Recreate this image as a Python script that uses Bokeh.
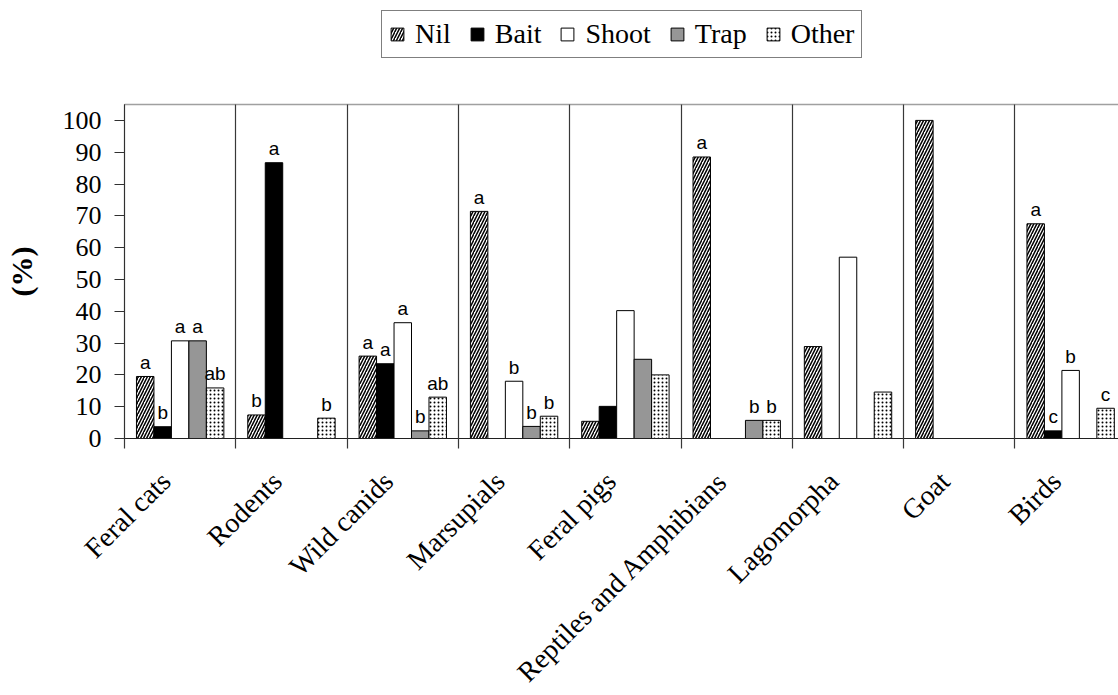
import math
from bokeh.plotting import figure
from bokeh.models import Range1d, FixedTicker, ColumnDataSource, Legend, LegendItem, LinearAxis
from bokeh.core.properties import value
from bokeh.embed import file_html
from bokeh.resources import INLINE

categories = ["Feral cats", "Rodents", "Wild canids", "Marsupials", "Feral pigs",
              "Reptiles and Amphibians", "Lagomorpha", "Goat", "Birds"]
series_names = ["Nil", "Bait", "Shoot", "Trap", "Other"]

nil = [19.5, 7.4, 25.9, 71.4, 5.4, 88.5, 28.9, 100.0, 67.5]
bait = [3.7, 86.7, 23.5, 0.0, 10.1, 0.0, 0.0, 0.0, 2.4]
shoot = [30.7, 0.0, 36.4, 18.0, 40.2, 0.0, 57.0, 0.0, 21.4]
trap = [30.7, 0.0, 2.4, 3.8, 24.9, 5.7, 0.0, 0.0, 0.0]
other = [15.9, 6.4, 13.0, 7.0, 20.0, 5.7, 14.6, 0.0, 9.5]

nil_sig = ["a", "b", "a", "a", "", "a", "", "", "a"]
bait_sig = ["b", "a", "a", "", "", "", "", "", "c"]
shoot_sig = ["a", "", "a", "b", "", "", "", "", "b"]
trap_sig = ["a", "", "b", "b", "", "b", "", "", ""]
other_sig = ["ab", "b", "ab", "b", "", "b", "", "", "c"]

y_ticks = [0, 10, 20, 30, 40, 50, 60, 70, 80, 90, 100]
y_label = "(%)"

all_values = [nil, bait, shoot, trap, other]
all_sigs = [nil_sig, bait_sig, shoot_sig, trap_sig, other_sig]

styles = [
    dict(fill_color="white", hatch_pattern="/", hatch_color="black", hatch_scale=6, hatch_weight=1.5),
    dict(fill_color="black"),
    dict(fill_color="white"),
    dict(fill_color="#969696"),
    dict(fill_color="white", hatch_pattern=".", hatch_color="black", hatch_scale=4, hatch_weight=1.0),
]

bar_w = 0.157
offsets = [-2 * bar_w, -bar_w, 0.0, bar_w, 2 * bar_w]
serif = "Liberation Serif"

# ---- geometry: the frame fills the whole canvas, axes sit at fixed data locations ----
W, H = 1118, 695
AX_LEFT, AX_TOP, AX_ZERO = 124, 104, 438     # pixel column of x=0, rows of y=Y_MAX and y=0
Y_MAX = 105.0
X_MAX = 8.93
sy = (AX_ZERO - AX_TOP) / Y_MAX
sx = (W - AX_LEFT) / X_MAX
y_range = Range1d(-(H - AX_ZERO) / sy, Y_MAX + AX_TOP / sy)
x_range = Range1d(-AX_LEFT / sx, X_MAX)

p = figure(width=W, height=H, x_range=x_range, y_range=y_range,
           output_backend="svg", toolbar_location=None, min_border=0)
p.background_fill_color = "white"
p.border_fill_color = "white"
p.outline_line_color = None
p.grid.grid_line_color = None

plot_h_px = AX_ZERO - AX_TOP

label_shift = -0.13
xt = FixedTicker(ticks=[i + 0.5 + label_shift for i in range(len(categories))],
                 minor_ticks=list(range(len(categories) + 1)))
xa = p.xaxis[0]
xa.fixed_location = 0
xa.bounds = (0, X_MAX)
xa.ticker = xt
xa.major_label_overrides = {i + 0.5 + label_shift: c for i, c in enumerate(categories)}
xa.major_tick_line_color = None
# category dividers: minor ticks running up through the plot and 10px below the axis
xa.minor_tick_in = plot_h_px
xa.minor_tick_out = 10
xa.minor_tick_line_color = "#383838"
xa.minor_tick_line_width = 1.2
xa.axis_line_color = "#202020"
xa.major_label_orientation = math.pi / 4
xa.major_label_text_font = serif
xa.major_label_text_font_size = "28px"
xa.major_label_text_color = "black"
xa.major_label_standoff = 28

ya = p.yaxis[0]
ya.fixed_location = 0
ya.bounds = (0, Y_MAX)
ya.ticker = FixedTicker(ticks=y_ticks)
ya.minor_tick_line_color = None
ya.major_tick_in = 0
ya.major_tick_out = 10
ya.major_tick_line_color = "#303030"
ya.axis_line_color = "#303030"
ya.major_label_text_font = serif
ya.major_label_text_font_size = "26px"
ya.major_label_text_color = "black"
ya.major_label_standoff = 13
ya.axis_label = y_label
ya.axis_label_text_font = serif
ya.axis_label_text_font_style = "bold"
ya.axis_label_text_font_size = "30px"
ya.axis_label_text_color = "black"
ya.axis_label_standoff = 22

# grey top border of the plot area
top_axis = LinearAxis(fixed_location=Y_MAX, bounds=(0, X_MAX), axis_line_color="#a0a0a0",
                      axis_line_width=1.5, major_tick_line_color=None, minor_tick_line_color=None,
                      major_label_text_font_size="0px", ticker=FixedTicker(ticks=[]))
p.add_layout(top_axis, "above")

legend_items = []
for k, (name, vals, sigs) in enumerate(zip(series_names, all_values, all_sigs)):
    xs, tops, txts = [], [], []
    for i, v in enumerate(vals):
        if v > 0:
            xs.append(i + 0.5 + offsets[k])
            tops.append(v)
            txts.append(sigs[i])
    src = ColumnDataSource(dict(x=xs, top=tops, sig=txts))
    r = p.vbar(x="x", top="top", bottom=0, width=bar_w, source=src,
               line_color="black", line_width=1, **styles[k])
    legend_items.append(LegendItem(label=name, renderers=[r]))
    p.text(x="x", y="top", text="sig", source=src, text_align="center",
           text_baseline="alphabetic", y_offset=-14,
           text_font=value("Liberation Sans"), text_font_size="19px", text_color="black")

legend = Legend(items=legend_items, orientation="horizontal", location=(381, H - 58),
                label_text_font=serif, label_text_font_size="28px", label_text_color="black",
                glyph_width=16, glyph_height=16, label_standoff=10, spacing=18,
                padding=7, margin=0, border_line_color="black", border_line_width=1,
                background_fill_color="white", background_fill_alpha=1.0)
p.add_layout(legend, "center")

open("out.html", "w").write(file_html(p, INLINE))
